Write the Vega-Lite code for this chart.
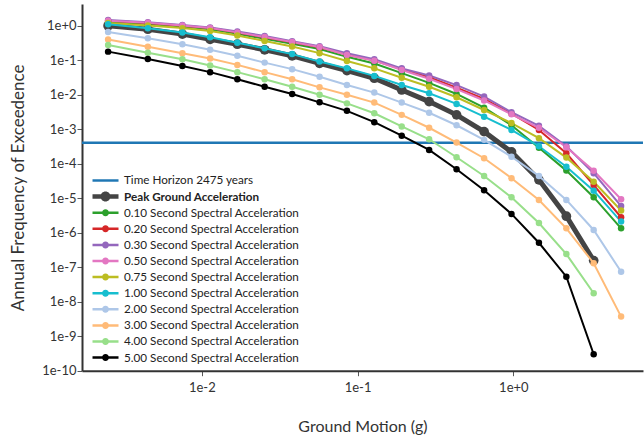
{
  "$schema": "https://vega.github.io/schema/vega-lite/v6.json",
  "width": 561,
  "height": 366.7,
  "autosize": {"type": "none"},
  "padding": {"left": 82, "top": 4, "right": 1, "bottom": 72},
  "background": "white",
  "config": {
    "font": "Lato",
    "view": {"stroke": null},
    "axis": {
      "grid": false,
      "domainColor": "#333333",
      "domainWidth": 2,
      "tickColor": "#555555",
      "tickSize": 5,
      "labelFont": "Lato",
      "labelFontSize": 13,
      "labelColor": "#333333",
      "titleFont": "Lato",
      "titleFontSize": 16,
      "titleFontWeight": "normal",
      "titleColor": "#333333"
    }
  },
  "datasets": {
    "curves": [
      {"series":"PGA","x":0.0025,"y":1.0},{"series":"PGA","x":0.0045,"y":0.79},{"series":"PGA","x":0.0075,"y":0.57},{"series":"PGA","x":0.0113,"y":0.40},{"series":"PGA","x":0.0169,"y":0.29},{"series":"PGA","x":0.0253,"y":0.2},{"series":"PGA","x":0.038,"y":0.133},{"series":"PGA","x":0.057,"y":0.081},{"series":"PGA","x":0.0854,"y":0.05},{"series":"PGA","x":0.128,"y":0.03},{"series":"PGA","x":0.192,"y":0.0137},{"series":"PGA","x":0.288,"y":0.0063},{"series":"PGA","x":0.432,"y":0.0026},{"series":"PGA","x":0.649,"y":0.00085},{"series":"PGA","x":0.973,"y":0.00022},{"series":"PGA","x":1.46,"y":0.000034},{"series":"PGA","x":2.19,"y":0.000003},{"series":"PGA","x":3.28,"y":1.55e-7},
      {"series":"0.10","x":0.0025,"y":1.3},{"series":"0.10","x":0.0045,"y":1.12},{"series":"0.10","x":0.0075,"y":0.95},{"series":"0.10","x":0.0113,"y":0.79},{"series":"0.10","x":0.0169,"y":0.58},{"series":"0.10","x":0.0253,"y":0.42},{"series":"0.10","x":0.038,"y":0.30},{"series":"0.10","x":0.057,"y":0.21},{"series":"0.10","x":0.0854,"y":0.125},{"series":"0.10","x":0.128,"y":0.08},{"series":"0.10","x":0.192,"y":0.042},{"series":"0.10","x":0.288,"y":0.022},{"series":"0.10","x":0.432,"y":0.0105},{"series":"0.10","x":0.649,"y":0.0042},{"series":"0.10","x":0.973,"y":0.0013},{"series":"0.10","x":1.46,"y":0.00029},{"series":"0.10","x":2.19,"y":0.000063},{"series":"0.10","x":3.28,"y":0.0000107},{"series":"0.10","x":4.92,"y":0.00000134},
      {"series":"0.20","x":0.0025,"y":1.38},{"series":"0.20","x":0.0045,"y":1.2},{"series":"0.20","x":0.0075,"y":1.0},{"series":"0.20","x":0.0113,"y":0.85},{"series":"0.20","x":0.0169,"y":0.63},{"series":"0.20","x":0.0253,"y":0.46},{"series":"0.20","x":0.038,"y":0.33},{"series":"0.20","x":0.057,"y":0.235},{"series":"0.20","x":0.0854,"y":0.145},{"series":"0.20","x":0.128,"y":0.098},{"series":"0.20","x":0.192,"y":0.055},{"series":"0.20","x":0.288,"y":0.032},{"series":"0.20","x":0.432,"y":0.016},{"series":"0.20","x":0.649,"y":0.0075},{"series":"0.20","x":0.973,"y":0.0028},{"series":"0.20","x":1.46,"y":0.00095},{"series":"0.20","x":2.19,"y":0.0002},{"series":"0.20","x":3.28,"y":0.000024},{"series":"0.20","x":4.92,"y":0.0000028},
      {"series":"0.30","x":0.0025,"y":1.45},{"series":"0.30","x":0.0045,"y":1.25},{"series":"0.30","x":0.0075,"y":1.05},{"series":"0.30","x":0.0113,"y":0.88},{"series":"0.30","x":0.0169,"y":0.68},{"series":"0.30","x":0.0253,"y":0.50},{"series":"0.30","x":0.038,"y":0.355},{"series":"0.30","x":0.057,"y":0.255},{"series":"0.30","x":0.0854,"y":0.16},{"series":"0.30","x":0.128,"y":0.106},{"series":"0.30","x":0.192,"y":0.058},{"series":"0.30","x":0.288,"y":0.036},{"series":"0.30","x":0.432,"y":0.019},{"series":"0.30","x":0.649,"y":0.0088},{"series":"0.30","x":0.973,"y":0.0031},{"series":"0.30","x":1.46,"y":0.00125},{"series":"0.30","x":2.19,"y":0.00032},{"series":"0.30","x":3.28,"y":0.000053},{"series":"0.30","x":4.92,"y":0.0000059},
      {"series":"0.50","x":0.0025,"y":1.40},{"series":"0.50","x":0.0045,"y":1.21},{"series":"0.50","x":0.0075,"y":1.02},{"series":"0.50","x":0.0113,"y":0.86},{"series":"0.50","x":0.0169,"y":0.64},{"series":"0.50","x":0.0253,"y":0.47},{"series":"0.50","x":0.038,"y":0.335},{"series":"0.50","x":0.057,"y":0.24},{"series":"0.50","x":0.0854,"y":0.142},{"series":"0.50","x":0.128,"y":0.097},{"series":"0.50","x":0.192,"y":0.052},{"series":"0.50","x":0.288,"y":0.029},{"series":"0.50","x":0.432,"y":0.0145},{"series":"0.50","x":0.649,"y":0.0068},{"series":"0.50","x":0.973,"y":0.0027},{"series":"0.50","x":1.46,"y":0.0011},{"series":"0.50","x":2.19,"y":0.0003},{"series":"0.50","x":3.28,"y":0.000062},{"series":"0.50","x":4.92,"y":0.0000093},
      {"series":"0.75","x":0.0025,"y":1.2},{"series":"0.75","x":0.0045,"y":1.02},{"series":"0.75","x":0.0075,"y":0.85},{"series":"0.75","x":0.0113,"y":0.7},{"series":"0.75","x":0.0169,"y":0.52},{"series":"0.75","x":0.0253,"y":0.36},{"series":"0.75","x":0.038,"y":0.25},{"series":"0.75","x":0.057,"y":0.16},{"series":"0.75","x":0.0854,"y":0.095},{"series":"0.75","x":0.128,"y":0.058},{"series":"0.75","x":0.192,"y":0.031},{"series":"0.75","x":0.288,"y":0.017},{"series":"0.75","x":0.432,"y":0.0084},{"series":"0.75","x":0.649,"y":0.0036},{"series":"0.75","x":0.973,"y":0.0015},{"series":"0.75","x":1.46,"y":0.00055},{"series":"0.75","x":2.19,"y":0.00015},{"series":"0.75","x":3.28,"y":0.00003},{"series":"0.75","x":4.92,"y":0.0000044},
      {"series":"1.00","x":0.0025,"y":1.1},{"series":"1.00","x":0.0045,"y":0.84},{"series":"1.00","x":0.0075,"y":0.63},{"series":"1.00","x":0.0113,"y":0.46},{"series":"1.00","x":0.0169,"y":0.32},{"series":"1.00","x":0.0253,"y":0.22},{"series":"1.00","x":0.038,"y":0.15},{"series":"1.00","x":0.057,"y":0.091},{"series":"1.00","x":0.0854,"y":0.058},{"series":"1.00","x":0.128,"y":0.035},{"series":"1.00","x":0.192,"y":0.019},{"series":"1.00","x":0.288,"y":0.011},{"series":"1.00","x":0.432,"y":0.0054},{"series":"1.00","x":0.649,"y":0.0023},{"series":"1.00","x":0.973,"y":0.00095},{"series":"1.00","x":1.46,"y":0.00032},{"series":"1.00","x":2.19,"y":0.000082},{"series":"1.00","x":3.28,"y":0.0000165},{"series":"1.00","x":4.92,"y":0.0000021},
      {"series":"2.00","x":0.0025,"y":0.66},{"series":"2.00","x":0.0045,"y":0.43},{"series":"2.00","x":0.0075,"y":0.29},{"series":"2.00","x":0.0113,"y":0.2},{"series":"2.00","x":0.0169,"y":0.135},{"series":"2.00","x":0.0253,"y":0.085},{"series":"2.00","x":0.038,"y":0.055},{"series":"2.00","x":0.057,"y":0.033},{"series":"2.00","x":0.0854,"y":0.019},{"series":"2.00","x":0.128,"y":0.0115},{"series":"2.00","x":0.192,"y":0.0059},{"series":"2.00","x":0.288,"y":0.003},{"series":"2.00","x":0.432,"y":0.0013},{"series":"2.00","x":0.649,"y":0.00049},{"series":"2.00","x":0.973,"y":0.00016},{"series":"2.00","x":1.46,"y":0.000044},{"series":"2.00","x":2.19,"y":0.0000089},{"series":"2.00","x":3.28,"y":0.0000012},{"series":"2.00","x":4.92,"y":7.4e-8},
      {"series":"3.00","x":0.0025,"y":0.40},{"series":"3.00","x":0.0045,"y":0.246},{"series":"3.00","x":0.0075,"y":0.158},{"series":"3.00","x":0.0113,"y":0.112},{"series":"3.00","x":0.0169,"y":0.073},{"series":"3.00","x":0.0253,"y":0.045},{"series":"3.00","x":0.038,"y":0.028},{"series":"3.00","x":0.057,"y":0.0163},{"series":"3.00","x":0.0854,"y":0.0099},{"series":"3.00","x":0.128,"y":0.0059},{"series":"3.00","x":0.192,"y":0.0026},{"series":"3.00","x":0.288,"y":0.0011},{"series":"3.00","x":0.432,"y":0.00041},{"series":"3.00","x":0.649,"y":0.000144},{"series":"3.00","x":0.973,"y":0.000038},{"series":"3.00","x":1.46,"y":0.0000089},{"series":"3.00","x":2.19,"y":0.00000134},{"series":"3.00","x":3.28,"y":1.3e-7},{"series":"3.00","x":4.92,"y":3.7e-9},
      {"series":"4.00","x":0.0025,"y":0.276},{"series":"4.00","x":0.0045,"y":0.165},{"series":"4.00","x":0.0075,"y":0.106},{"series":"4.00","x":0.0113,"y":0.07},{"series":"4.00","x":0.0169,"y":0.045},{"series":"4.00","x":0.0253,"y":0.028},{"series":"4.00","x":0.038,"y":0.017},{"series":"4.00","x":0.057,"y":0.01},{"series":"4.00","x":0.0854,"y":0.0056},{"series":"4.00","x":0.128,"y":0.0029},{"series":"4.00","x":0.192,"y":0.0012},{"series":"4.00","x":0.288,"y":0.00051},{"series":"4.00","x":0.432,"y":0.000154},{"series":"4.00","x":0.649,"y":0.000044},{"series":"4.00","x":0.973,"y":0.0000106},{"series":"4.00","x":1.46,"y":0.0000019},{"series":"4.00","x":2.19,"y":2.4e-7},{"series":"4.00","x":3.28,"y":1.75e-8},
      {"series":"5.00","x":0.0025,"y":0.177},{"series":"5.00","x":0.0045,"y":0.108},{"series":"5.00","x":0.0075,"y":0.068},{"series":"5.00","x":0.0113,"y":0.045},{"series":"5.00","x":0.0169,"y":0.028},{"series":"5.00","x":0.0253,"y":0.017},{"series":"5.00","x":0.038,"y":0.0105},{"series":"5.00","x":0.057,"y":0.006},{"series":"5.00","x":0.0854,"y":0.0034},{"series":"5.00","x":0.128,"y":0.0016},{"series":"5.00","x":0.192,"y":0.00065},{"series":"5.00","x":0.288,"y":0.00025},{"series":"5.00","x":0.432,"y":0.000069},{"series":"5.00","x":0.649,"y":0.000017},{"series":"5.00","x":0.973,"y":0.0000035},{"series":"5.00","x":1.46,"y":5.1e-7},{"series":"5.00","x":2.19,"y":5.3e-8},{"series":"5.00","x":3.28,"y":3.0e-10}
    ],
    "horizon": [{"series": "TH", "y": 0.000404}]
  },
  "encoding": {
    "y": {
      "field": "y", "type": "quantitative",
      "scale": {"type": "log", "domain": [1e-10, 4.25], "nice": false},
      "axis": {"title": "Annual Frequency of Exceedence", "titleFontSize": 17, "values": [1e-10, 1e-9, 1e-8, 1e-7, 1e-6, 1e-5, 1e-4, 1e-3, 1e-2, 1e-1, 1], "format": ".0e", "labelPadding": 1, "titlePadding": 14, "labelFlush": false}
    },
    "color": {
      "field": "series", "type": "nominal",
      "scale": {
        "domain": ["TH", "PGA", "0.10", "0.20", "0.30", "0.50", "0.75", "1.00", "2.00", "3.00", "4.00", "5.00"],
        "range": ["#1f77b4", "#444444", "#2ca02c", "#d62728", "#9467bd", "#e377c2", "#bcbd22", "#17becf", "#aec7e8", "#ffbb78", "#98df8a", "#000000"]
      },
      "legend": {
        "title": null,
        "orient": "none",
        "legendX": 17,
        "legendY": 170,
        "padding": 0,
        "rowPadding": 2.1,
        "symbolSize": 169,
        "symbolType": "M-2,-0.19H2V0.19H-2ZM-0.54,0A0.54,0.54 0 1,1 0.54,0A0.54,0.54 0 1,1 -0.54,0Z",
        "symbolStrokeWidth": 0,
        "labelOffset": 12,
        "labelFont": "Lato",
        "labelFontSize": 11.7,
        "labelColor": "#222222",
        "labelLimit": 400,
        "labelExpr": "datum.value == 'TH' ? 'Time Horizon 2475 years' : datum.value == 'PGA' ? 'Peak Ground Acceleration' : datum.value + ' Second Spectral Acceleration'",
        "encode": {
          "symbols": {
            "update": {
              "shape": {"signal": "datum.value == 'TH' ? 'M-2,-0.19H2V0.19H-2Z' : datum.value == 'PGA' ? 'M-2,-0.35H2V0.35H-2ZM-0.77,0A0.77,0.77 0 1,1 0.77,0A0.77,0.77 0 1,1 -0.77,0Z' : 'M-2,-0.19H2V0.19H-2ZM-0.54,0A0.54,0.54 0 1,1 0.54,0A0.54,0.54 0 1,1 -0.54,0Z'"},
              "size": {"value": 169},
              "strokeWidth": {"value": 0},
              "stroke": {"value": "transparent"},
              "fill": {"scale": "color", "field": "value"},
              "opacity": {"value": 1},
              "fillOpacity": {"value": 1}
            }
          },
          "labels": {
            "update": {
              "fontWeight": {"signal": "datum.value == 'PGA' ? 'bold' : 'normal'"}
            }
          }
        }
      }
    }
  },
  "layer": [
    {
      "data": {"name": "horizon"},
      "mark": {"type": "rule", "strokeWidth": 2.5}
    },
    {
      "data": {"name": "curves"},
      "transform": [{"filter": "datum.series == 'PGA'"}],
      "mark": {"type": "line", "strokeWidth": 5, "point": {"filled": true, "size": 95, "opacity": 1}},
      "encoding": {
        "x": {
          "field": "x", "type": "quantitative",
          "scale": {"type": "log", "domain": [0.0017, 6.8], "nice": false},
          "axis": {"title": "Ground Motion (g)", "values": [0.01, 0.1, 1], "format": ".0e", "labelPadding": 6, "titlePadding": 24, "labelFlush": false}
        }
      }
    },
    {
      "data": {"name": "curves"},
      "transform": [{"filter": "datum.series != 'PGA'"}],
      "mark": {"type": "line", "strokeWidth": 2, "point": {"filled": true, "size": 42, "opacity": 1}},
      "encoding": {
        "x": {
          "field": "x", "type": "quantitative",
          "scale": {"type": "log", "domain": [0.0017, 6.8], "nice": false},
          "axis": {"title": "Ground Motion (g)", "values": [0.01, 0.1, 1], "format": ".0e", "labelPadding": 6, "titlePadding": 24, "labelFlush": false}
        }
      }
    }
  ]
}
